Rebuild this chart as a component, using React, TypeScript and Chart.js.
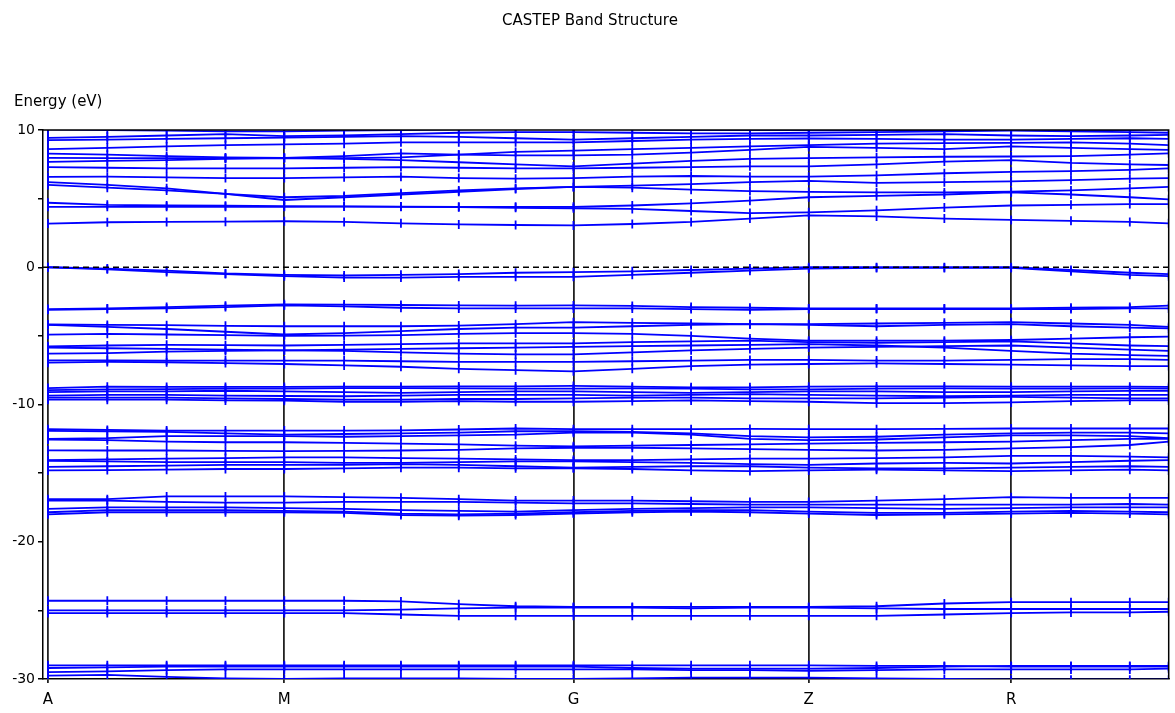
import React, { useEffect, useRef } from "react";
import { Chart, registerables } from "chart.js";

Chart.register(...registerables);

// k-path positions (path distance, arbitrary units) of the computed k-points
const kPos = [0, 59.5, 119, 178, 237, 297, 354, 412, 469, 527, 586, 645, 704, 763, 831, 899, 966, 1026, 1085, 1124];
// high-symmetry points
const symLabels = ["A", "M", "G", "Z", "R"];
const symPos = [0, 237, 527, 763, 966];
const fermiLevel = 0;
const titleText = "CASTEP Band Structure";
const yAxisLabel = "Energy (eV)";

// ---- deep semicore bands (~ -29 .. -30 eV)
const d1 = [-29.0, -29.0, -29.0, -29.0, -29.0, -29.0, -29.0, -29.0, -29.0, -29.0, -29.0, -29.0, -29.0, -29.0, -29.05, -29.05, -29.1, -29.1, -29.1, -29.1];
const d2 = [-29.2, -29.15, -29.1, -29.1, -29.1, -29.1, -29.1, -29.1, -29.1, -29.1, -29.2, -29.25, -29.25, -29.25, -29.2, -29.1, -29.05, -29.05, -29.05, -29.05];
const d3 = [-29.5, -29.45, -29.35, -29.3, -29.3, -29.3, -29.3, -29.3, -29.3, -29.3, -29.3, -29.35, -29.35, -29.4, -29.35, -29.3, -29.3, -29.3, -29.3, -29.25];
const d4 = [-29.75, -29.7, -29.85, -29.95, -30.0, -29.95, -29.95, -29.95, -30.0, -30.0, -29.95, -29.9, -29.9, -29.9, -29.95, -30.0, -30.05, -30.05, -30.05, -30.05];

// ---- ~ -25 eV bands
const f1 = [-24.3, -24.3, -24.3, -24.3, -24.3, -24.3, -24.35, -24.55, -24.7, -24.75, -24.75, -24.75, -24.75, -24.75, -24.7, -24.5, -24.4, -24.4, -24.4, -24.4];
const f2 = [-25.0, -25.0, -25.0, -25.0, -25.0, -25.0, -24.95, -24.85, -24.8, -24.8, -24.8, -24.85, -24.8, -24.8, -24.85, -24.9, -24.9, -24.9, -24.9, -24.9];
const f3 = [-25.2, -25.2, -25.2, -25.2, -25.2, -25.2, -25.3, -25.4, -25.4, -25.4, -25.4, -25.4, -25.4, -25.4, -25.4, -25.3, -25.2, -25.15, -25.15, -25.1];

// ---- ~ -17 .. -18 eV bands
const e1 = [-16.9, -16.9, -16.7, -16.7, -16.7, -16.75, -16.8, -16.9, -17.0, -17.0, -17.0, -17.05, -17.1, -17.1, -17.0, -16.9, -16.75, -16.8, -16.8, -16.8];
const e2 = [-17.0, -17.0, -17.1, -17.15, -17.15, -17.1, -17.1, -17.1, -17.15, -17.2, -17.2, -17.25, -17.3, -17.3, -17.3, -17.3, -17.3, -17.3, -17.25, -17.3];
const e3 = [-17.6, -17.5, -17.5, -17.5, -17.55, -17.6, -17.7, -17.75, -17.8, -17.7, -17.6, -17.55, -17.5, -17.5, -17.55, -17.6, -17.55, -17.5, -17.5, -17.5];
const e4 = [-17.85, -17.7, -17.7, -17.7, -17.75, -17.8, -17.95, -18.0, -17.95, -17.85, -17.75, -17.7, -17.7, -17.8, -17.9, -17.9, -17.8, -17.75, -17.8, -17.85];
const e5 = [-18.0, -17.85, -17.85, -17.85, -17.85, -17.9, -18.05, -18.1, -18.05, -17.95, -17.85, -17.8, -17.85, -17.95, -18.05, -18.0, -17.95, -17.9, -17.95, -18.0];

// ---- ~ -12 .. -15 eV bands
const c1 = [-11.8, -11.85, -11.9, -11.9, -11.9, -11.9, -11.88, -11.82, -11.75, -11.8, -11.8, -11.8, -11.78, -11.8, -11.8, -11.78, -11.75, -11.75, -11.75, -11.75];
const c2 = [-11.92, -11.95, -12.0, -12.1, -12.2, -12.15, -12.1, -12.05, -11.95, -11.95, -12.0, -12.1, -12.3, -12.4, -12.35, -12.2, -12.1, -12.05, -12.05, -12.1];
const c3 = [-12.5, -12.45, -12.3, -12.3, -12.3, -12.35, -12.3, -12.25, -12.2, -12.05, -12.05, -12.2, -12.5, -12.6, -12.55, -12.4, -12.25, -12.25, -12.3, -12.45];
const c4 = [-12.55, -12.6, -12.7, -12.75, -12.75, -12.8, -12.85, -12.9, -13.0, -13.05, -13.0, -12.95, -12.9, -12.85, -12.8, -12.75, -12.7, -12.6, -12.5, -12.5];
const c5 = [-13.34, -13.35, -13.35, -13.38, -13.4, -13.38, -13.35, -13.3, -13.2, -13.15, -13.15, -13.2, -13.25, -13.3, -13.35, -13.3, -13.2, -13.1, -12.95, -12.7];
const c6 = [-14.05, -14.0, -13.95, -13.9, -13.85, -13.85, -13.9, -13.95, -14.0, -14.05, -14.05, -14.0, -13.95, -13.95, -13.9, -13.85, -13.75, -13.75, -13.8, -13.85];
const c7 = [-14.1, -14.15, -14.2, -14.2, -14.2, -14.25, -14.25, -14.2, -14.15, -14.15, -14.2, -14.25, -14.35, -14.4, -14.3, -14.25, -14.3, -14.2, -14.1, -14.05];
const c8 = [-14.55, -14.5, -14.45, -14.4, -14.4, -14.4, -14.35, -14.4, -14.5, -14.6, -14.55, -14.5, -14.5, -14.6, -14.65, -14.65, -14.6, -14.55, -14.5, -14.55];
const c9 = [-14.8, -14.78, -14.75, -14.7, -14.7, -14.65, -14.6, -14.6, -14.65, -14.65, -14.7, -14.8, -14.85, -14.8, -14.75, -14.8, -14.85, -14.8, -14.75, -14.8];

// ---- ~ -9 eV bands
const b1 = [-8.8, -8.7, -8.72, -8.72, -8.72, -8.7, -8.7, -8.68, -8.68, -8.65, -8.7, -8.75, -8.75, -8.7, -8.68, -8.68, -8.7, -8.7, -8.7, -8.72];
const b2 = [-8.95, -8.9, -8.88, -8.85, -8.85, -8.8, -8.8, -8.82, -8.85, -8.85, -8.82, -8.85, -8.9, -8.9, -8.85, -8.82, -8.85, -8.85, -8.82, -8.85];
const b3 = [-9.1, -9.05, -9.05, -9.0, -9.05, -9.1, -9.15, -9.1, -9.05, -9.05, -9.1, -9.15, -9.1, -9.05, -9.05, -9.1, -9.1, -9.05, -9.0, -9.0];
const b4 = [-9.35, -9.3, -9.3, -9.35, -9.38, -9.4, -9.35, -9.3, -9.3, -9.3, -9.35, -9.3, -9.25, -9.3, -9.35, -9.4, -9.35, -9.3, -9.3, -9.3];
const b5 = [-9.5, -9.5, -9.5, -9.55, -9.6, -9.65, -9.65, -9.6, -9.6, -9.55, -9.5, -9.5, -9.55, -9.55, -9.55, -9.5, -9.45, -9.5, -9.55, -9.55];
const b6 = [-9.65, -9.65, -9.65, -9.7, -9.72, -9.8, -9.8, -9.75, -9.8, -9.8, -9.75, -9.7, -9.75, -9.8, -9.9, -9.9, -9.85, -9.75, -9.7, -9.7];

// ---- valence bands (-2.7 .. -7.6 eV)
const va1 = [-3.05, -3.0, -2.9, -2.8, -2.7, -2.72, -2.75, -2.78, -2.8, -2.78, -2.82, -2.9, -2.95, -3.0, -3.0, -3.0, -3.0, -2.95, -2.9, -2.8];
const va2 = [-3.1, -3.05, -3.0, -2.9, -2.78, -2.85, -2.95, -3.0, -3.0, -3.0, -3.0, -3.05, -3.1, -3.05, -3.05, -3.05, -3.05, -3.05, -3.0, -3.0];
const va3 = [-4.17, -4.2, -4.22, -4.27, -4.3, -4.3, -4.3, -4.25, -4.15, -4.0, -4.05, -4.1, -4.15, -4.15, -4.1, -4.05, -4.0, -4.1, -4.2, -4.35];
const va4 = [-4.2, -4.35, -4.5, -4.7, -4.9, -4.8, -4.65, -4.5, -4.4, -4.4, -4.3, -4.2, -4.15, -4.2, -4.3, -4.2, -4.15, -4.3, -4.4, -4.45];
const va5 = [-4.91, -4.85, -4.9, -4.95, -5.0, -4.98, -4.95, -4.85, -4.8, -4.8, -4.85, -5.0, -5.2, -5.35, -5.35, -5.35, -5.3, -5.2, -5.1, -5.05];
const va6 = [-5.76, -5.7, -5.65, -5.68, -5.7, -5.65, -5.6, -5.55, -5.55, -5.55, -5.45, -5.4, -5.35, -5.45, -5.5, -5.45, -5.4, -5.55, -5.7, -5.75];
const va7 = [-5.85, -5.9, -5.95, -6.0, -6.05, -6.1, -6.2, -6.3, -6.35, -6.35, -6.2, -6.05, -5.95, -5.85, -5.8, -5.75, -5.7, -5.85, -6.0, -6.1];
const va8 = [-6.78, -6.78, -6.8, -6.8, -6.8, -6.8, -6.85, -6.9, -6.9, -6.9, -6.85, -6.8, -6.75, -6.75, -6.8, -6.8, -6.75, -6.7, -6.7, -6.75];
const va9 = [-6.95, -6.9, -6.92, -6.98, -7.05, -7.15, -7.25, -7.4, -7.5, -7.58, -7.4, -7.2, -7.1, -7.05, -7.0, -7.05, -7.1, -7.15, -7.2, -7.2];
const va10 = [-6.3, -6.25, -6.15, -6.1, -6.05, -6.0, -5.95, -5.9, -5.85, -5.8, -5.75, -5.7, -5.65, -5.6, -5.7, -5.85, -6.1, -6.3, -6.4, -6.45];

// ---- top valence bands (near Fermi level)
const v1 = [0.0, -0.1, -0.25, -0.45, -0.55, -0.6, -0.55, -0.5, -0.4, -0.35, -0.3, -0.2, -0.1, 0.0, 0.0, 0.0, 0.0, -0.2, -0.4, -0.5];
const v2 = [0.0, -0.15, -0.35, -0.5, -0.65, -0.75, -0.75, -0.7, -0.7, -0.7, -0.55, -0.4, -0.25, -0.1, -0.05, -0.05, -0.05, -0.3, -0.55, -0.65];

// ---- conduction bands (3 .. 10 eV)
const cb1 = [3.18, 3.28, 3.3, 3.32, 3.35, 3.3, 3.2, 3.12, 3.08, 3.05, 3.15, 3.3, 3.55, 3.78, 3.7, 3.55, 3.45, 3.38, 3.3, 3.2];
const cb2 = [4.4, 4.4, 4.4, 4.4, 4.4, 4.42, 4.4, 4.38, 4.33, 4.3, 4.25, 4.1, 3.95, 4.0, 4.15, 4.35, 4.5, 4.55, 4.6, 4.6];
const cb3 = [4.7, 4.55, 4.5, 4.48, 4.45, 4.43, 4.42, 4.4, 4.4, 4.4, 4.5, 4.65, 4.85, 5.1, 5.2, 5.3, 5.45, 5.3, 5.1, 4.95];
const cb4 = [6.0, 5.8, 5.6, 5.35, 5.1, 5.2, 5.4, 5.6, 5.75, 5.85, 5.8, 5.65, 5.55, 5.49, 5.45, 5.45, 5.5, 5.6, 5.75, 5.85];
const cb5 = [6.2, 6.0, 5.75, 5.35, 4.9, 5.1, 5.3, 5.5, 5.7, 5.85, 5.95, 6.05, 6.2, 6.3, 6.15, 6.2, 6.25, 6.35, 6.45, 6.5];
const cb6 = [6.58, 6.6, 6.55, 6.5, 6.5, 6.55, 6.6, 6.5, 6.45, 6.5, 6.6, 6.65, 6.6, 6.6, 6.7, 6.85, 6.95, 7.0, 7.1, 7.2];
const cb7 = [7.3, 7.25, 7.2, 7.2, 7.2, 7.25, 7.3, 7.25, 7.2, 7.2, 7.25, 7.3, 7.35, 7.35, 7.5, 7.7, 7.8, 7.6, 7.5, 7.45];
const cb8 = [7.68, 7.75, 7.8, 7.9, 7.95, 7.9, 7.8, 7.65, 7.5, 7.35, 7.55, 7.75, 7.9, 7.95, 8.0, 8.05, 8.07, 8.1, 8.2, 8.3];
const cb9 = [7.97, 7.95, 7.95, 7.95, 7.97, 8.1, 8.3, 8.2, 8.15, 8.15, 8.2, 8.35, 8.55, 8.77, 8.7, 8.6, 8.8, 8.7, 8.6, 8.55];
const cb10 = [8.28, 8.2, 8.1, 8.0, 7.97, 7.95, 8.0, 8.2, 8.4, 8.5, 8.6, 8.7, 8.8, 8.9, 9.0, 9.05, 9.06, 9.1, 9.0, 8.9];
const cb11 = [8.6, 8.7, 8.8, 8.9, 8.95, 9.0, 9.1, 9.1, 9.1, 9.1, 9.2, 9.3, 9.35, 9.38, 9.35, 9.3, 9.3, 9.35, 9.4, 9.35];
const cb12 = [9.26, 9.3, 9.35, 9.4, 9.45, 9.5, 9.55, 9.5, 9.4, 9.3, 9.4, 9.5, 9.6, 9.6, 9.65, 9.7, 9.6, 9.55, 9.6, 9.65];
const cb13 = [9.43, 9.5, 9.6, 9.7, 9.55, 9.6, 9.7, 9.8, 9.85, 9.85, 9.8, 9.75, 9.75, 9.8, 9.85, 9.9, 9.95, 9.9, 9.85, 9.8];
const cb14 = [10.05, 10.0, 9.95, 9.9, 9.9, 9.95, 10.0, 10.05, 10.1, 10.1, 10.05, 10.0, 10.0, 9.99, 10.0, 10.0, 10.0, 9.98, 10.0, 10.05];

const bands = [
  d1, d2, d3, d4,
  f1, f2, f3,
  e1, e2, e3, e4, e5,
  c1, c2, c3, c4, c5, c6, c7, c8, c9,
  b1, b2, b3, b4, b5, b6,
  va1, va2, va3, va4, va5, va6, va7, va8, va9, va10,
  v1, v2,
  cb1, cb2, cb3, cb4, cb5, cb6, cb7, cb8, cb9, cb10, cb11, cb12, cb13, cb14,
];

const FONT = "'DejaVu Sans', sans-serif";
const BAND_COLOR = "#0000ff";

const framePlugin = {
  id: "frameAndText",
  afterDatasetsDraw(chart: any) {
    const { ctx, chartArea } = chart;
    ctx.save();
    ctx.strokeStyle = "#000";
    ctx.lineWidth = 1.5;
    ctx.beginPath();
    ctx.moveTo(chartArea.left, chartArea.top);
    ctx.lineTo(chartArea.right, chartArea.top);
    ctx.lineTo(chartArea.right, chartArea.bottom);
    ctx.stroke();
    ctx.restore();
  },
  afterDraw(chart: any) {
    const { ctx } = chart;
    ctx.save();
    ctx.fillStyle = "#000";
    ctx.font = `15px ${FONT}`;
    ctx.textAlign = "center";
    ctx.textBaseline = "alphabetic";
    ctx.fillText(titleText, 590, 25);
    ctx.textAlign = "left";
    ctx.fillText(yAxisLabel, 14, 106);
    ctx.restore();
  },
};

export default function App() {
  const canvasRef = useRef<HTMLCanvasElement | null>(null);

  useEffect(() => {
    document.body.style.margin = "0";
    const canvas = canvasRef.current;
    if (!canvas) return;

    const datasets: any[] = [
      {
        label: "Fermi",
        data: [
          { x: -5, y: fermiLevel },
          { x: kPos[kPos.length - 1], y: fermiLevel },
        ],
        borderColor: "#000",
        borderWidth: 1.5,
        borderDash: [6, 4],
        pointRadius: 0,
        order: -1,
      },
      ...bands.map((b, i) => ({
        label: `band ${i + 1}`,
        data: kPos.map((x, j) => ({ x, y: b[j] })),
        borderColor: BAND_COLOR,
        borderWidth: 1.8,
        tension: 0,
        pointStyle: "line",
        rotation: 90,
        pointRadius: 4.5,
        pointBorderWidth: 1.8,
        pointBorderColor: BAND_COLOR,
        pointBackgroundColor: BAND_COLOR,
      })),
    ];

    const chart = new Chart(canvas, {
      type: "line",
      data: { datasets },
      options: {
        animation: false,
        responsive: false,
        maintainAspectRatio: false,
        layout: { padding: { left: 0, right: 3, top: 130, bottom: 0 } },
        plugins: {
          legend: { display: false },
          tooltip: { enabled: false },
          title: { display: false },
        },
        elements: { point: { hoverRadius: 4.5 } },
        scales: {
          x: {
            type: "linear",
            min: -5,
            max: kPos[kPos.length - 1],
            afterBuildTicks: (axis: any) => {
              axis.ticks = symPos.map((v) => ({ value: v }));
            },
            afterFit: (axis: any) => {
              axis.height = 34;
            },
            ticks: {
              autoSkip: false,
              maxRotation: 0,
              padding: 8,
              color: "#000",
              font: { family: FONT, size: 15 },
              callback: (v: any) => {
                const i = symPos.indexOf(Number(v));
                return i >= 0 ? symLabels[i] : "";
              },
            },
            grid: { color: "#222", lineWidth: 1.8, tickLength: 4, drawOnChartArea: true },
            border: { color: "#000", width: 1.5 },
          },
          y: {
            type: "linear",
            min: -30,
            max: 10,
            afterFit: (axis: any) => {
              axis.width = 43;
            },
            ticks: {
              stepSize: 5,
              padding: 3,
              color: "#000",
              font: { family: FONT, size: 14 },
              callback: (v: any) => (Number(v) % 10 === 0 ? String(v) : ""),
            },
            grid: { drawOnChartArea: false, color: "#000", lineWidth: 1.5, tickLength: 5 },
            border: { color: "#000", width: 1.5 },
          },
        },
      },
      plugins: [framePlugin],
    });

    return () => {
      chart.destroy();
    };
  }, []);

  return (
    <div style={{ width: 1175, height: 713, background: "#fff" }}>
      <canvas ref={canvasRef} width={1175} height={713} style={{ display: "block" }} />
    </div>
  );
}
